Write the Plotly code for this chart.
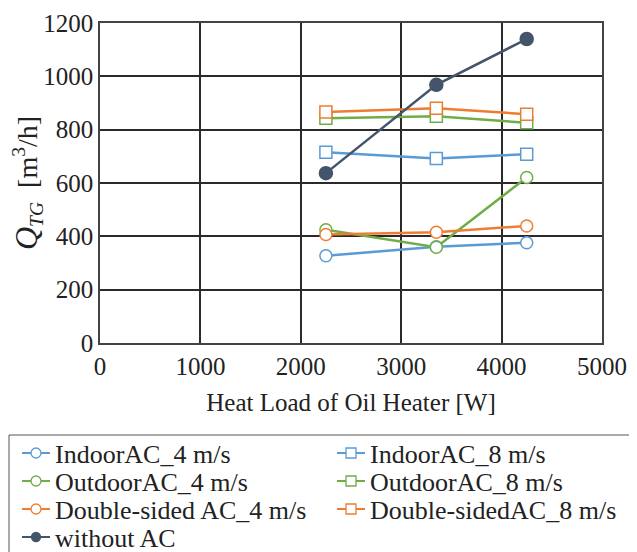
import plotly.graph_objects as go

heat_load = [2250, 3350, 4250]
indoor_4 = [327, 361, 376]
indoor_8 = [715, 692, 708]
outdoor_4 = [425, 359, 621]
outdoor_8 = [843, 850, 826]
double_4 = [407, 415, 439]
double_8 = [866, 880, 858]
without_ac = [637, 968, 1140]

names = ["IndoorAC_4 m/s", "IndoorAC_8 m/s", "OutdoorAC_4 m/s", "OutdoorAC_8 m/s",
         "Double-sided AC_4 m/s", "Double-sidedAC_8 m/s", "without AC"]
series = [indoor_4, indoor_8, outdoor_4, outdoor_8, double_4, double_8, without_ac]
colors = ["#5B9BD5", "#5B9BD5", "#70AD47", "#70AD47", "#ED7D31", "#ED7D31", "#44546A"]
symbols = ["circle", "square", "circle", "square", "circle", "square", "circle"]
filled = [False, False, False, False, False, False, True]

# page body has an 8px margin, so the figure is offset by 8px
OFF = 8
W, H = 637 - OFF, 552 - OFF
ML, MT = 100 - OFF, 23 - OFF
MR = W - (602 - OFF)
MB = H - (343 - OFF)
PW, PH = W - ML - MR, H - MT - MB
font_family = "Liberation Serif"


def px(x):
    return (x - OFF - ML) / PW


def py(y):
    return (H - MB - (y - OFF)) / PH


fig = go.Figure()
for n, s, c, sym, f in zip(names, series, colors, symbols, filled):
    fig.add_trace(go.Scatter(
        x=heat_load, y=s, name=n, mode="lines+markers",
        line=dict(color=c, width=2.5),
        marker=dict(symbol=sym, size=13 if f else 12, color=c if f else "white",
                    line=dict(color=c, width=1.5)),
        showlegend=False,
    ))

# manual legend box (two columns, four rows)
shapes = [dict(type="rect", xref="paper", yref="paper",
               x0=px(9), x1=px(634), y0=py(435), y1=py(575),
               line=dict(color="#555", width=1), fillcolor="rgba(0,0,0,0)")]
annotations = []
row_y = [453, 481, 509, 537]
col_x = [22, 337]
for i, (n, c, sym, f) in enumerate(zip(names, colors, symbols, filled)):
    r, col = divmod(i, 2)
    y0 = row_y[r]
    x0 = col_x[col]
    shapes.append(dict(type="line", xref="paper", yref="paper",
                       x0=px(x0), x1=px(x0 + 28), y0=py(y0), y1=py(y0),
                       line=dict(color=c, width=2)))
    rad = 4.5 if f else 5
    shapes.append(dict(type="circle" if sym == "circle" else "rect",
                       xref="paper", yref="paper",
                       x0=px(x0 + 14 - rad), x1=px(x0 + 14 + rad),
                       y0=py(y0 - rad), y1=py(y0 + rad),
                       line=dict(color=c, width=1.3),
                       fillcolor=c if f else "white"))
    annotations.append(dict(text=n, xref="paper", yref="paper",
                            x=px(x0 + 31), y=py(y0 + 1), xanchor="left", yanchor="middle",
                            showarrow=False,
                            font=dict(family=font_family, size=26, color="#222")))

fig.update_layout(
    width=W, height=H,
    margin=dict(l=ML, r=MR, t=MT, b=MB, autoexpand=False),
    paper_bgcolor="white", plot_bgcolor="white",
    font=dict(family=font_family, size=25, color="#222"),
    showlegend=False,
    shapes=shapes,
    annotations=annotations,
    xaxis=dict(
        range=[0, 5000], dtick=1000, tick0=0,
        showgrid=True, gridcolor="#2a2a2a", gridwidth=1.5,
        showline=True, linecolor="#444", linewidth=1.5, mirror=True,
        ticks="", zeroline=False,
        title=dict(text="Heat Load of Oil Heater [W]", font=dict(size=25), standoff=15),
        tickfont=dict(size=25),
    ),
    yaxis=dict(
        range=[0, 1200], dtick=200, tick0=0,
        showgrid=True, gridcolor="#2a2a2a", gridwidth=1.5,
        showline=True, linecolor="#444", linewidth=1.5, mirror=True,
        ticks="", zeroline=False,
        title=dict(text="<i><span style='font-size:32px'>Q</span><sub>TG</sub></i>&nbsp;&nbsp;[m<sup>3</sup>/h]",
                   font=dict(size=28), standoff=2),
        tickfont=dict(size=25),
    ),
)

fig.write_html("out.html")
